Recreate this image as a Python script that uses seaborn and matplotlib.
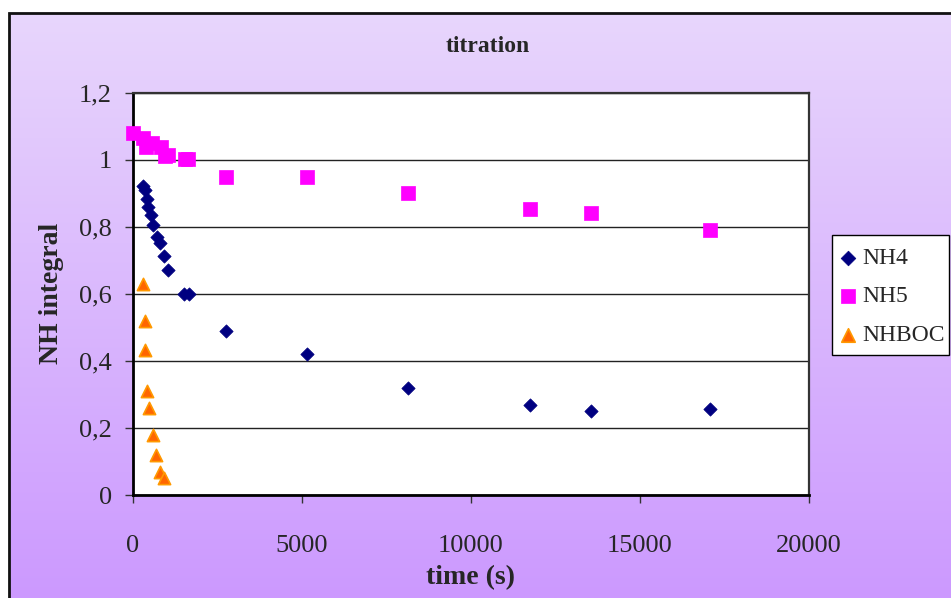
import numpy as np
import pandas as pd
import matplotlib
matplotlib.use("Agg")
import matplotlib.pyplot as plt
from matplotlib.colors import LinearSegmentedColormap
from matplotlib.patches import Rectangle
import seaborn as sns

# NH integrals measured during the titration, time in seconds
nh4_time = [305, 355, 405, 453, 533, 600, 700, 800, 925, 1025, 1510, 1660,
            2740, 5150, 8140, 11750, 13550, 17070]
nh4_value = [0.922, 0.910, 0.882, 0.858, 0.835, 0.805, 0.770, 0.752, 0.712,
             0.671, 0.601, 0.601, 0.488, 0.422, 0.320, 0.269, 0.251, 0.257]

nh5_time = [0, 305, 375, 550, 830, 945, 1045, 1540, 1640, 2750, 5150, 8140,
            11750, 13550, 17070]
nh5_value = [1.081, 1.064, 1.039, 1.051, 1.037, 1.011, 1.014, 1.001, 1.001,
             0.950, 0.949, 0.900, 0.853, 0.841, 0.790]

nhboc_time = [305, 355, 355, 405, 465, 580, 690, 800, 915]
nhboc_value = [0.629, 0.520, 0.432, 0.310, 0.259, 0.180, 0.118, 0.069, 0.050]

x_ticks = [0, 5000, 10000, 15000, 20000]
y_ticks = [0, 0.2, 0.4, 0.6, 0.8, 1.0, 1.2]
y_tick_labels = ["0", "0,2", "0,4", "0,6", "0,8", "1", "1,2"]

sns.set_theme(style="white")
plt.rcParams["font.family"] = ["Liberation Serif", "DejaVu Serif"]

W, H = 951, 598
fig = plt.figure(figsize=(W / 100, H / 100), dpi=100)
fig.patch.set_facecolor("white")

# Chart area with a vertical lavender-to-violet gradient
bg_left, bg_top = 8.5 / W, 12.5 / H
bg = fig.add_axes([bg_left, 0, 1 - bg_left, 1 - bg_top], zorder=0)
grad_cmap = LinearSegmentedColormap.from_list(
    "chartbg", [(204 / 255, 153 / 255, 255 / 255), (232 / 255, 214 / 255, 252 / 255)])
bg.imshow(np.linspace(0, 1, 256).reshape(-1, 1), aspect="auto", cmap=grad_cmap,
          origin="lower", extent=[0, 1, 0, 1])
bg.set_xlim(0, 1)
bg.set_ylim(0, 1)
bg.axis("off")
fig.add_artist(Rectangle((bg_left, -0.05), 1.2, 1.05 - bg_top, transform=fig.transFigure,
                         fill=False, edgecolor="#111111", linewidth=2.0, zorder=1))

# Plot area
L, R, T, B = 133, 809, 92.7, 495
ax = fig.add_axes([L / W, 1 - B / H, (R - L) / W, (B - T) / H], zorder=2)
ax.set_facecolor("white")

df4 = pd.DataFrame({"time": nh4_time, "value": nh4_value})
df5 = pd.DataFrame({"time": nh5_time, "value": nh5_value})
dfb = pd.DataFrame({"time": nhboc_time, "value": nhboc_value})

sns.scatterplot(data=df4, x="time", y="value", ax=ax, marker="D", s=46,
                color="#000080", edgecolor="#000080", linewidth=0.5, label="NH4",
                zorder=3, clip_on=False)
sns.scatterplot(data=df5, x="time", y="value", ax=ax, marker="s", s=88,
                color="#FF00FF", edgecolor="#FF00FF", linewidth=0.5, label="NH5",
                zorder=3, clip_on=False)
sns.scatterplot(data=dfb, x="time", y="value", ax=ax, marker="^", s=78,
                color="#FF6600", edgecolor="#FF9900", linewidth=1.2, label="NHBOC",
                zorder=3, clip_on=False)

ax.set_xlim(0, 20000)
ax.set_ylim(0, 1.2)
ax.set_xticks(x_ticks)
ax.set_xticklabels([str(v) for v in x_ticks])
ax.set_yticks(y_ticks)
ax.set_yticklabels(y_tick_labels)
ax.yaxis.grid(True, color="#222222", linewidth=1.0)
ax.xaxis.grid(False)
ax.set_axisbelow(True)

for side in ["top", "right"]:
    ax.spines[side].set_visible(True)
    ax.spines[side].set_color("#333333")
    ax.spines[side].set_linewidth(1.6)
for side in ["left", "bottom"]:
    ax.spines[side].set_color("black")
    ax.spines[side].set_linewidth(2.0)

ax.tick_params(axis="x", direction="out", length=6, width=1, color="#333333",
               pad=23, labelsize=19, bottom=True)
ax.tick_params(axis="y", direction="out", length=6, width=1, color="#333333",
               pad=9, labelsize=19, left=True)

ax.set_xlabel("time (s)", fontsize=20, fontweight="bold")
ax.set_ylabel("NH integral", fontsize=20, fontweight="bold")
ax.xaxis.set_label_coords((470 - L) / (R - L), (B - 578) / (B - T))
ax.xaxis.label.set_va("center")
ax.yaxis.set_label_coords((51 - L) / (R - L), 0.5)
ax.yaxis.label.set_va("center")

fig.text(488 / W, 1 - 47 / H, "titration", ha="center", va="center",
         fontsize=17, fontweight="bold")

# Legend: white boxed panel to the right of the plot area
lx0, ly0, lx1, ly1 = 832, 235, 949, 355
fig.add_artist(Rectangle((lx0 / W, 1 - ly1 / H), (lx1 - lx0) / W, (ly1 - ly0) / H,
                         transform=fig.transFigure, facecolor="white",
                         edgecolor="black", linewidth=1.0, zorder=1.5))
leg = ax.legend(loc="center left", bbox_to_anchor=(836 / W, 1 - 296.5 / H),
                bbox_transform=fig.transFigure, frameon=False, fontsize=17,
                handletextpad=0.1, labelspacing=0.72, borderpad=0,
                handlelength=1.0, borderaxespad=0, markerscale=1.1)

fig.savefig("out.png", dpi=100)
